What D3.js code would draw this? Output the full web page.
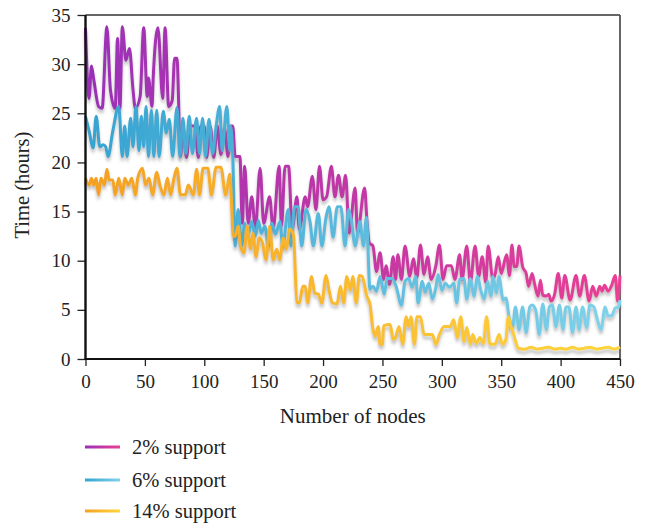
<!DOCTYPE html>
<html>
<head>
<meta charset="utf-8">
<script src="https://cdn.jsdelivr.net/npm/d3@7"></script>
<style>
  body { margin: 0; background: #fff; }
  svg text { font-family: "Liberation Serif", "DejaVu Serif", serif; fill: #222; }
</style>
</head>
<body>
<div id="chart"></div>
<script>
// x ticks / y ticks
var xTicks = [0, 50, 100, 150, 200, 250, 300, 350, 400, 450];
var yTicks = [0, 5, 10, 15, 20, 25, 30, 35];

// 2% support
var nodes2 = [0,3,5,7,11,14,18,21,25,27,29,31,34,37,40,42,46,49,52,53,56,57,61,65,67,70,73,75,77,80,
  82,85,88,92,95,97,100,102,105,108,111,114,117,120,122,124,126,130,
  132,134,137,140,143,147,150,155,158,163,165,168,171,174,178,180,185,187,191,194,197,200,203,207,210,213,216,219,222,227,229,235,237,
  239,242,245,248,251,253,256,259,261,263,266,269,273,276,279,282,285,288,291,295,298,301,304,308,311,315,317,321,324,328,331,334,337,339,343,
  345,347.5,350,354.5,357,359,361,363,365,368,371,373,376,378,381,383,385,388,390,392,395,398,401,403.5,408,413,416,420,424,427,430,433,435,437,440,443,446,448,450];
var time2 = [33.7,26.5,29.8,28.4,25.7,25.5,33.8,27.4,25.5,32.6,25.5,33.8,30.4,31.6,27.4,25.5,26.7,33.7,26.7,28.6,25.7,28.6,33.7,26.5,33.7,25.7,26.3,30.6,30.6,20.6,
  23.7,20.5,23.7,23.7,20.5,23.7,23.7,20.5,23.7,20.5,23.7,20.8,23.5,20.6,23.7,23.7,20.6,20.6,
  13.8,19.6,13.8,16.5,13.2,19.4,13.8,16.5,13.2,19.6,13.5,19.6,19.6,13.2,16.5,13.2,16.5,15.5,18.6,15.2,19.6,16.2,16.5,19.6,16.5,18.7,16.5,18.7,12.8,17.4,12.8,17.4,14,
  11.8,11.5,8.9,10.8,8.1,9.5,7.6,10.4,8.1,10.6,8.1,11.5,8.4,10.2,8.3,11.6,8.6,10.4,8.1,9.5,11.6,8.1,9.5,9.5,8.1,10.6,8.1,11.5,7.8,11.5,8.4,10.4,7.8,11.5,8.1,
  8.7,10.4,8.7,10.6,8.5,11.6,9.4,9.4,11.5,9.4,8.7,7.4,8.7,7.7,6.4,8.0,6.5,6.4,6.6,5.9,6.6,8.7,6.2,8.5,6.0,8.5,6.4,8.5,5.9,7.4,6.4,7.4,6.9,7.5,6.9,7.5,8.5,5.9,8.5];

// 6% support
var nodes6 = [0,3,6.5,9,12,15,17,19,23,28,31,33,35,38,40,42.5,45,47,49,51,53,55.5,57.5,60,62,65.5,68,70.5,73.4,77,79.5,82,84.5,87.4,90,93.5,96,98.6,101,104,107,110,113,115,119,121.5,122,124,126,
  128.5,131.5,134,137,140,143,145.5,148,151,154,157,160,163.7,166,170.7,173,176,179,182,185.7,189,191.8,196,199,202.5,205,208.5,212,215,218.5,221.5,224,227,231,234,236.5,
  239.5,242,245,248,251.5,254,258,261.5,266,269,272,275,278,280,283.5,286,289,292,295,297,300,303,306.5,310,312.5,315,318.5,321,324,327,330,333,335.7,338.5,341.4,343,346,348,351.7,354,
  356.7,359.6,362,365,368,371,374,376,379,382,385,388,390.5,393,396,399,402,404.5,407,410,413,415.6,418.5,422,424.6,428,431,434,437.5,440,443,446,449,450];
var time6 = [24.7,23.2,21.5,24.7,21.6,21.8,21.6,20.6,23.2,25.7,20.6,23.7,20.6,24.5,21.6,25.7,21.2,24.7,21.6,25.7,20.6,25.3,20.6,25.3,20.6,25.2,23.0,24.4,20.6,25.6,20.6,24.5,20.9,24.7,20.9,24.5,20.9,24.5,20.6,24.4,20.9,23.7,25.7,21.2,25.7,21.2,23.7,20.6,11.5,
  15.2,11.5,13.8,12.7,14,12.5,14.1,12.8,13.5,11.5,13.8,12.7,14,11.5,15.2,11.5,15.5,15.5,11.5,15.2,14,11.5,14.8,11.5,14.4,15.5,12.4,15.5,15.5,11.5,15.2,14,11.5,14,11.5,14.4,
  7.1,7.4,6.9,8.4,6.6,8.2,8.2,7.4,5.5,7.9,8.2,7.3,8.4,5.7,7.9,6.8,7.7,6.1,7.3,8.6,7.0,7.7,7.3,7.7,5.7,8.1,8.2,6.1,8.2,6.4,8.4,6.9,6.1,7.9,6.4,8.4,6.7,8.4,6.0,6.2,
  4.2,3.3,5.3,3.0,5.3,2.7,5.3,5.5,5.0,2.5,5.6,3.0,5.3,5.5,3.3,5.5,3.0,5.3,5.3,2.7,5.3,3.0,5.3,3.2,5.5,5.3,4.0,3.0,5.3,4.4,4.4,5.2,5.3,6.0];

// 14% support
var nodes14 = [0,3,5,7,9,11,13,16,18,20,23,25,28,31,33,36,39,42,44,48,50.5,53.5,56.5,60,62.6,66,69,71.7,74.5,77,80,84,86.6,90.8,93.6,96,99,103,106,110,114,118,121.6,123,124.4,126,
  128.6,130.5,133.5,136,139,141,143.5,146.3,149,152,155,158,161,163.5,166.5,169,172,175,178,180,183,185,187,190.4,193,196,199,202.5,205,208,211.8,214.6,217.4,220,223,225,228,230.5,233,236.8,239.5,
  241.7,243.7,246.5,248,250,251,256.5,259,261,264,267,270,272,274,277,279,282,285,288,292,295,298,302,304,307,310,313,316,318.6,321,324,326,329,332,335,337.7,340.5,344.7,348.3,351,354,356,358,360.5,362.6,364.3,
  370,375,380,385,390,395,400,405,410,415,420,425,430,435,440,445,450];
var time14 = [18.4,17.7,18.4,17.7,18.4,16.7,18.4,17.7,19.3,18.2,18.2,16.7,18.4,16.7,18.4,17.7,18.4,16.7,18.4,19.4,17.7,18.4,16.7,19.0,17.7,16.7,18.4,16.7,18.4,19.4,16.7,16.7,17.7,16.7,19.3,16.7,19.4,19.4,16.7,19.5,19.5,16.7,18.8,15.7,12.5,12.5,
  13.5,11.5,10.8,13.5,11.2,12.8,10.4,12.3,11.8,10.1,13.5,10.1,11.2,10.1,12.3,11.2,13.2,12.7,5.8,5.7,7.4,7.4,5.7,8.4,6.7,6.6,5.7,8.5,7.0,5.7,5.6,7.4,5.7,8.4,7.0,8.4,5.7,8.5,8.4,6.4,5.6,
  3.3,2.3,3.3,1.5,1.5,3.4,3.5,2.0,2.2,3.3,1.5,4.3,3.3,4.3,1.5,4.3,4.3,2.5,2.5,2.5,1.5,2.5,3.3,3.3,3.3,4.0,2.2,4.3,1.8,3.2,1.5,2.5,1.6,2.2,1.6,4.3,1.5,1.5,2.5,1.5,2.0,4.3,3.4,2.5,1.6,1.1,
  1.0,1.2,1.0,1.1,1.2,1.0,1.1,1.0,1.2,1.0,1.1,1.2,1.0,1.1,1.2,1.0,1.2];

var seriesNames = ["2% support", "6% support", "14% support"];
var seriesColors = [["#9a2fb8", "#ea3f94"], ["#36a3d1", "#80d3ea"], ["#f4a022", "#ffd63c"]];

var width = 650, height = 523;
var margin = { top: 15, right: 30, bottom: 164, left: 85.5 };

var svg = d3.select("#chart").append("svg")
  .attr("width", width)
  .attr("height", height);

var defs = svg.append("defs");

var xScale = d3.scaleLinear().domain([0, 450]).range([margin.left, width - margin.right]);
var yScale = d3.scaleLinear().domain([0, 35]).range([height - margin.bottom, margin.top]);

// gradients along x for each series, plus legend versions
seriesColors.forEach(function(c, i){
  var g = defs.append("linearGradient")
    .attr("id", "grad" + i)
    .attr("gradientUnits", "userSpaceOnUse")
    .attr("x1", xScale(0)).attr("x2", xScale(450))
    .attr("y1", 0).attr("y2", 0);
  g.append("stop").attr("offset", "0%").attr("stop-color", c[0]);
  g.append("stop").attr("offset", "100%").attr("stop-color", c[1]);

  var lg = defs.append("linearGradient")
    .attr("id", "lgrad" + i);
  lg.append("stop").attr("offset", "0%").attr("stop-color", c[0]);
  lg.append("stop").attr("offset", "100%").attr("stop-color", c[1]);
});

var shadow = defs.append("filter")
  .attr("id", "shadow")
  .attr("x", "-5%").attr("y", "-10%")
  .attr("width", "110%").attr("height", "130%");
shadow.append("feDropShadow")
  .attr("dx", 0).attr("dy", 3.5)
  .attr("stdDeviation", 1.8)
  .attr("flood-color", "#777")
  .attr("flood-opacity", 0.45);

// axes
var xAxisGen = d3.axisBottom(xScale).tickValues(xTicks).tickSize(7).tickPadding(9);
var yAxisGen = d3.axisLeft(yScale).tickValues(yTicks).tickSize(8).tickPadding(7);

var xAxis = svg.append("g")
  .attr("class", "Xaxis")
  .attr("transform", "translate(0," + yScale(0) + ")")
  .call(xAxisGen);
var yAxis = svg.append("g")
  .attr("class", "Yaxis")
  .attr("transform", "translate(" + xScale(0) + ",0)")
  .call(yAxisGen);

[xAxis, yAxis].forEach(function(a){
  a.select(".domain").remove();
  a.selectAll(".tick line").attr("stroke", "#222").attr("stroke-width", 1.3);
  a.selectAll(".tick text").style("font-size", "19px").attr("fill", "#222");
});

// frame
svg.append("line")
  .attr("x1", xScale(0)).attr("x2", xScale(450))
  .attr("y1", yScale(35)).attr("y2", yScale(35))
  .attr("stroke", "#333").attr("stroke-width", 1.3);
svg.append("line")
  .attr("x1", xScale(450)).attr("x2", xScale(450))
  .attr("y1", yScale(35)).attr("y2", yScale(0))
  .attr("stroke", "#555").attr("stroke-width", 1.8);

// lines
var lineGen = d3.line()
  .x(function(d){ return xScale(d[0]); })
  .y(function(d){ return yScale(d[1]); })
  .curve(d3.curveMonotoneX);

var allSeries = [d3.zip(nodes2, time2), d3.zip(nodes6, time6), d3.zip(nodes14, time14)];

svg.selectAll(".series")
  .data(allSeries)
  .enter().append("path")
  .attr("class", "series")
  .attr("d", lineGen)
  .attr("fill", "none")
  .attr("stroke", function(d, i){ return "url(#grad" + i + ")"; })
  .attr("stroke-width", 3)
  .attr("stroke-linejoin", "round")
  .attr("filter", "url(#shadow)");

// axis lines drawn on top
svg.append("line")
  .attr("x1", xScale(0)).attr("x2", xScale(0))
  .attr("y1", yScale(35)).attr("y2", yScale(0))
  .attr("stroke", "#111").attr("stroke-width", 2.4);
svg.append("line")
  .attr("x1", xScale(0) - 1).attr("x2", xScale(450))
  .attr("y1", yScale(0)).attr("y2", yScale(0))
  .attr("stroke", "#111").attr("stroke-width", 1.8);

// axis titles
svg.append("text")
  .attr("x", (xScale(0) + xScale(450)) / 2)
  .attr("y", 423)
  .attr("text-anchor", "middle")
  .style("font-size", "21px")
  .text("Number of nodes");

svg.append("text")
  .attr("transform", "translate(29," + yScale(17.7) + ") rotate(-90)")
  .attr("text-anchor", "middle")
  .style("font-size", "20.5px")
  .text("Time (hours)");

// legend
var legendY = [447, 480, 511];
var legend = svg.selectAll(".legend")
  .data(seriesNames)
  .enter().append("g")
  .attr("class", "legend")
  .attr("transform", function(d, i){ return "translate(85," + legendY[i] + ")"; });

legend.append("rect")
  .attr("x", 0).attr("y", -1.5)
  .attr("width", 35).attr("height", 3)
  .attr("fill", function(d, i){ return "url(#lgrad" + i + ")"; });

legend.append("text")
  .attr("x", 47)
  .attr("y", 6.5)
  .style("font-size", "20.5px")
  .text(function(d){ return d; });
</script>
</body>
</html>
